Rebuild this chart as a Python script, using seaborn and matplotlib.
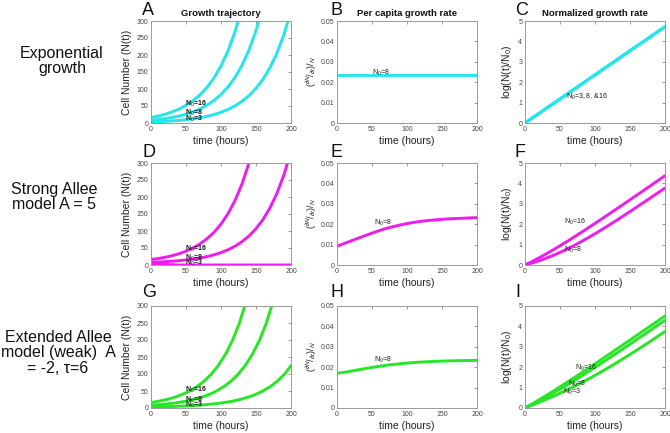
import matplotlib
matplotlib.use("Agg")
import matplotlib.pyplot as plt
import pandas as pd
import seaborn as sns

# ---------------- data ----------------
t10 = [0, 10, 20, 30, 40, 50, 60, 70, 80, 90, 100, 110, 120, 130, 140, 150, 160, 170, 180, 190, 200]

# Exponential growth
exp_n16 = [16, 20.24, 25.6, 32.38, 40.96, 51.81, 65.54, 82.9, 104.86, 132.63, 167.77, 212.2, 268.4, 339.5]
exp_n8 = [8, 10.12, 12.8, 16.19, 20.48, 25.9, 32.77, 41.45, 52.43, 66.32, 83.89, 106.1, 134.2, 169.8,
          214.7, 271.6, 343.6]
exp_n3 = [3, 3.79, 4.8, 6.07, 7.68, 9.71, 12.29, 15.54, 19.66, 24.87, 31.46, 39.79, 50.33, 63.67,
          80.53, 101.9, 128.8, 163.0, 206.2, 260.8, 329.8]
exp_rate_t = [0, 200]
exp_rate_n8 = [0.0235, 0.0235]
exp_log_t = [0, 200]
exp_log = [0, 4.72]

# Strong Allee, A = 5
sa_n16 = [16, 18.91, 22.6, 27.26, 33.16, 40.62, 50.06, 61.99, 77.09, 96.19, 120.35, 150.9, 189.6,
          238.4, 300.3, 378.5]
sa_n8 = [8, 8.79, 9.8, 11.07, 12.68, 14.71, 17.29, 20.54, 24.66, 29.87, 36.46, 44.79, 55.33, 68.67,
         85.53, 106.9, 133.8, 168.0, 211.2, 265.8, 334.8]
sa_n3_t = [0, 10, 20, 30, 39, 200]
sa_n3 = [3, 2.47, 1.8, 0.95, 0, 0]
sa_rate_n8 = [0.0092, 0.0105, 0.0118, 0.0131, 0.0144, 0.0156, 0.0168, 0.0179, 0.0188, 0.0196, 0.0203,
              0.0209, 0.0214, 0.0218, 0.0221, 0.0224, 0.0226, 0.0228, 0.0229, 0.0231, 0.0232]
sa_log_n16 = [0, 0.169, 0.349, 0.539, 0.737, 0.942, 1.153, 1.369, 1.589, 1.813, 2.039, 2.268, 2.498,
              2.730, 2.963, 3.197, 3.432, 3.667, 3.903, 4.139, 4.376]
sa_log_n8 = [0, 0.095, 0.205, 0.329, 0.466, 0.616, 0.779, 0.953, 1.138, 1.332, 1.533, 1.741, 1.955,
             2.173, 2.395, 2.620, 2.848, 3.077, 3.309, 3.541, 3.774]

# Extended Allee (weak), A = -2, tau = 6
ea_n16_t = [0, 11.41, 22.47, 34.36, 44.86, 55.17, 67.09, 76.41, 86.32, 96.16, 106.95, 116.65, 126.32,
            136.96, 156.16, 176.28, 193.61, 200.19]
ea_n16 = [16, 20, 25, 32, 40, 50, 65, 80, 100, 125, 160, 200, 250, 320, 500, 800, 1200, 1400]
ea_log_n16 = [0, 0.226, 0.451, 0.700, 0.926, 1.151, 1.416, 1.626, 1.851, 2.077, 2.326, 2.551, 2.777,
              3.026, 3.476, 3.951, 4.361, 4.516]

ea_n8_t = [0, 12.97, 23.13, 35.09, 49.87, 60.93, 72.82, 83.32, 93.63, 105.56, 114.87, 124.78, 134.61,
           145.41, 155.12, 164.78, 175.43, 185.04, 194.62, 200.23]
ea_n8 = [8, 10, 12, 15, 20, 25, 32, 40, 50, 65, 80, 100, 125, 160, 200, 250, 320, 400, 500, 570]
ea_log_n8 = [0, 0.225, 0.409, 0.635, 0.925, 1.151, 1.400, 1.625, 1.851, 2.116, 2.326, 2.551, 2.776,
             3.026, 3.251, 3.476, 3.726, 3.951, 4.176, 4.309]
ea_rate_n8 = [0.01700, 0.01763, 0.01828, 0.01902, 0.01989, 0.02047, 0.02103, 0.02146, 0.02182, 0.02218,
              0.02241, 0.02261, 0.02278, 0.02293, 0.02304, 0.02313, 0.02321, 0.02327, 0.02331, 0.02334]

ea_n3_t = [0, 21.21, 36.58, 48.49, 66.22, 79.19, 93.69, 104.68, 116.09, 127.15, 139.04, 149.55, 159.86,
           171.78, 181.09, 191.0, 200.12]
ea_n3 = [3, 4, 5, 6, 8, 10, 13, 16, 20, 25, 32, 40, 50, 65, 80, 100, 125]
ea_log_n3 = [0, 0.291, 0.516, 0.700, 0.991, 1.216, 1.481, 1.691, 1.916, 2.141, 2.391, 2.616, 2.841,
             3.106, 3.316, 3.541, 3.751]

row_labels = ["Exponential\ngrowth", "Strong Allee\nmodel A = 5", "Extended Allee\nmodel (weak)  A\n= -2, τ=6"]
col_titles = ["Growth trajectory", "Per capita growth rate", "Normalized growth rate"]
letters = ["A", "B", "C", "D", "E", "F", "G", "H", "I"]
x_ticks = [0, 50, 100, 150, 200]
n_ticks = [0, 50, 100, 150, 200, 250, 300]
rate_ticks = [0, 0.01, 0.02, 0.03, 0.04, 0.05]
rate_tick_labels = ["0", "0.01", "0.02", "0.03", "0.04", "0.05"]
log_ticks = [0, 1, 2, 3, 4, 5]

# ---------------- style ----------------
sns.set_theme(style="white")
plt.rcParams["font.family"] = ["Liberation Sans", "DejaVu Sans"]
plt.rcParams["mathtext.fontset"] = "custom"
plt.rcParams["mathtext.rm"] = "Liberation Sans"
plt.rcParams["mathtext.it"] = "Liberation Sans:italic"
plt.rcParams["mathtext.bf"] = "Liberation Sans:bold"

colors = ["#22e6ee", "#ee1cee", "#26e626"]
W, H = 670, 433
fig = plt.figure(figsize=(W / 100, H / 100), dpi=100)

lefts = [151, 337, 525]
tops = [21, 163, 306]
aw, ah = 140, 102
letter_x = [142, 330, 515]
letter_base = [15, 157, 297]


def make_ax(r, c):
    return fig.add_axes([lefts[c] / W, 1 - (tops[r] + ah) / H, aw / W, ah / H])


def draw(ax, series, color):
    frames = []
    for i, (x, y) in enumerate(series):
        frames.append(pd.DataFrame({"t": x, "v": y, "s": str(i)}))
    df = pd.concat(frames, ignore_index=True)
    sns.lineplot(data=df, x="t", y="v", hue="s", palette=[color] * len(series),
                 legend=False, linewidth=2.1, ax=ax, sort=False, estimator=None)


def style(ax, kind):
    ax.set_xlim(0, 200)
    ax.set_xticks(x_ticks)
    if kind == "n":
        ax.set_ylim(0, 300)
        ax.set_yticks(n_ticks)
        ax.set_ylabel("Cell Number (N(t))", fontsize=7.5, labelpad=3, color="#222")
    elif kind == "rate":
        ax.set_ylim(0, 0.05)
        ax.set_yticks(rate_ticks)
        ax.set_yticklabels(rate_tick_labels)
        ax.set_ylabel(r"$(^{\partial N}/_{\partial t})/_{N}$", fontsize=6.5, labelpad=1, color="#222")
    else:
        ax.set_ylim(0, 5)
        ax.set_yticks(log_ticks)
        ax.set_ylabel(r"log(N(t)/N$_0$)", fontsize=7.5, labelpad=3, color="#222")
    ax.set_xlabel("time (hours)", fontsize=7.5, labelpad=2, color="#222")
    ax.tick_params(direction="in", length=2.2, width=0.6, labelsize=5, labelcolor="#444",
                   color="#888", top=True, right=True, pad=2)
    for s in ax.spines.values():
        s.set_color("#9a9a9a")
        s.set_linewidth(0.7)


def lab(ax, x, y, s, bold=False, size=5.0):
    ax.text(x, y, s, fontsize=size, color="#1a1a1a", ha="left", va="center",
            fontweight="bold" if bold else "normal", zorder=5)


# Row 1: exponential
ax = make_ax(0, 0)
draw(ax, [(t10[:len(exp_n16)], exp_n16), (t10[:len(exp_n8)], exp_n8), (t10, exp_n3)], colors[0])
style(ax, "n")
lab(ax, 48, 57, "N$_0$=16", True)
lab(ax, 48, 31, "N$_0$=8", True)
lab(ax, 48, 12, "N$_0$=3", True)

ax = make_ax(0, 1)
draw(ax, [(exp_rate_t, exp_rate_n8)], colors[0])
style(ax, "rate")
lab(ax, 50, 0.0245, "N$_0$=8")

ax = make_ax(0, 2)
draw(ax, [(exp_log_t, exp_log), (exp_log_t, exp_log), (exp_log_t, exp_log)], colors[0])
style(ax, "log")
lab(ax, 59, 1.3, "N$_0$=3, 8, &16")

# Row 2: strong Allee
ax = make_ax(1, 0)
draw(ax, [(t10[:len(sa_n16)], sa_n16), (t10, sa_n8), (sa_n3_t, sa_n3)], colors[1])
style(ax, "n")
lab(ax, 48, 46, "N$_0$=16", True)
lab(ax, 48, 21, "N$_0$=8", True)
lab(ax, 48, 5, "N$_0$=3", True)

ax = make_ax(1, 1)
draw(ax, [(t10, sa_rate_n8)], colors[1])
style(ax, "rate")
lab(ax, 53, 0.0205, "N$_0$=8")

ax = make_ax(1, 2)
draw(ax, [(t10, sa_log_n16), (t10, sa_log_n8)], colors[1])
style(ax, "log")
lab(ax, 55, 2.1, "N$_0$=16")
lab(ax, 55, 0.75, "N$_0$=8")

# Row 3: extended Allee
ax = make_ax(2, 0)
draw(ax, [(ea_n16_t, ea_n16), (ea_n8_t, ea_n8), (ea_n3_t, ea_n3)], colors[2])
style(ax, "n")
lab(ax, 48, 52, "N$_0$=16", True)
lab(ax, 48, 25, "N$_0$=8", True)
lab(ax, 48, 8, "N$_0$=3", True)

ax = make_ax(2, 1)
draw(ax, [(ea_n8_t, ea_rate_n8)], colors[2])
style(ax, "rate")
lab(ax, 53, 0.0235, "N$_0$=8")

ax = make_ax(2, 2)
draw(ax, [(ea_n16_t, ea_log_n16), (ea_n8_t, ea_log_n8), (ea_n3_t, ea_log_n3)], colors[2])
style(ax, "log")
lab(ax, 72, 1.95, "N$_0$=16")
lab(ax, 62, 1.2, "N$_0$=8")
lab(ax, 54, 0.8, "N$_0$=3")

# titles, letters, row labels
for c in range(3):
    fig.text((lefts[c] + aw / 2) / W, 1 - 14 / H, col_titles[c], fontsize=6.8, fontweight="bold",
             ha="center", va="center", color="#111")
for r in range(3):
    for c in range(3):
        fig.text(letter_x[c] / W, 1 - letter_base[r] / H, letters[r * 3 + c], fontsize=13,
                 ha="left", va="baseline", color="#111")
row_cy = [61, 197, 353]
row_cx = [62, 54, 58]
for r in range(3):
    fig.text(row_cx[r] / W, 1 - row_cy[r] / H, row_labels[r], fontsize=11.5, ha="center",
             va="center", linespacing=1.05, color="#111")

fig.savefig("out.png", dpi=100)
